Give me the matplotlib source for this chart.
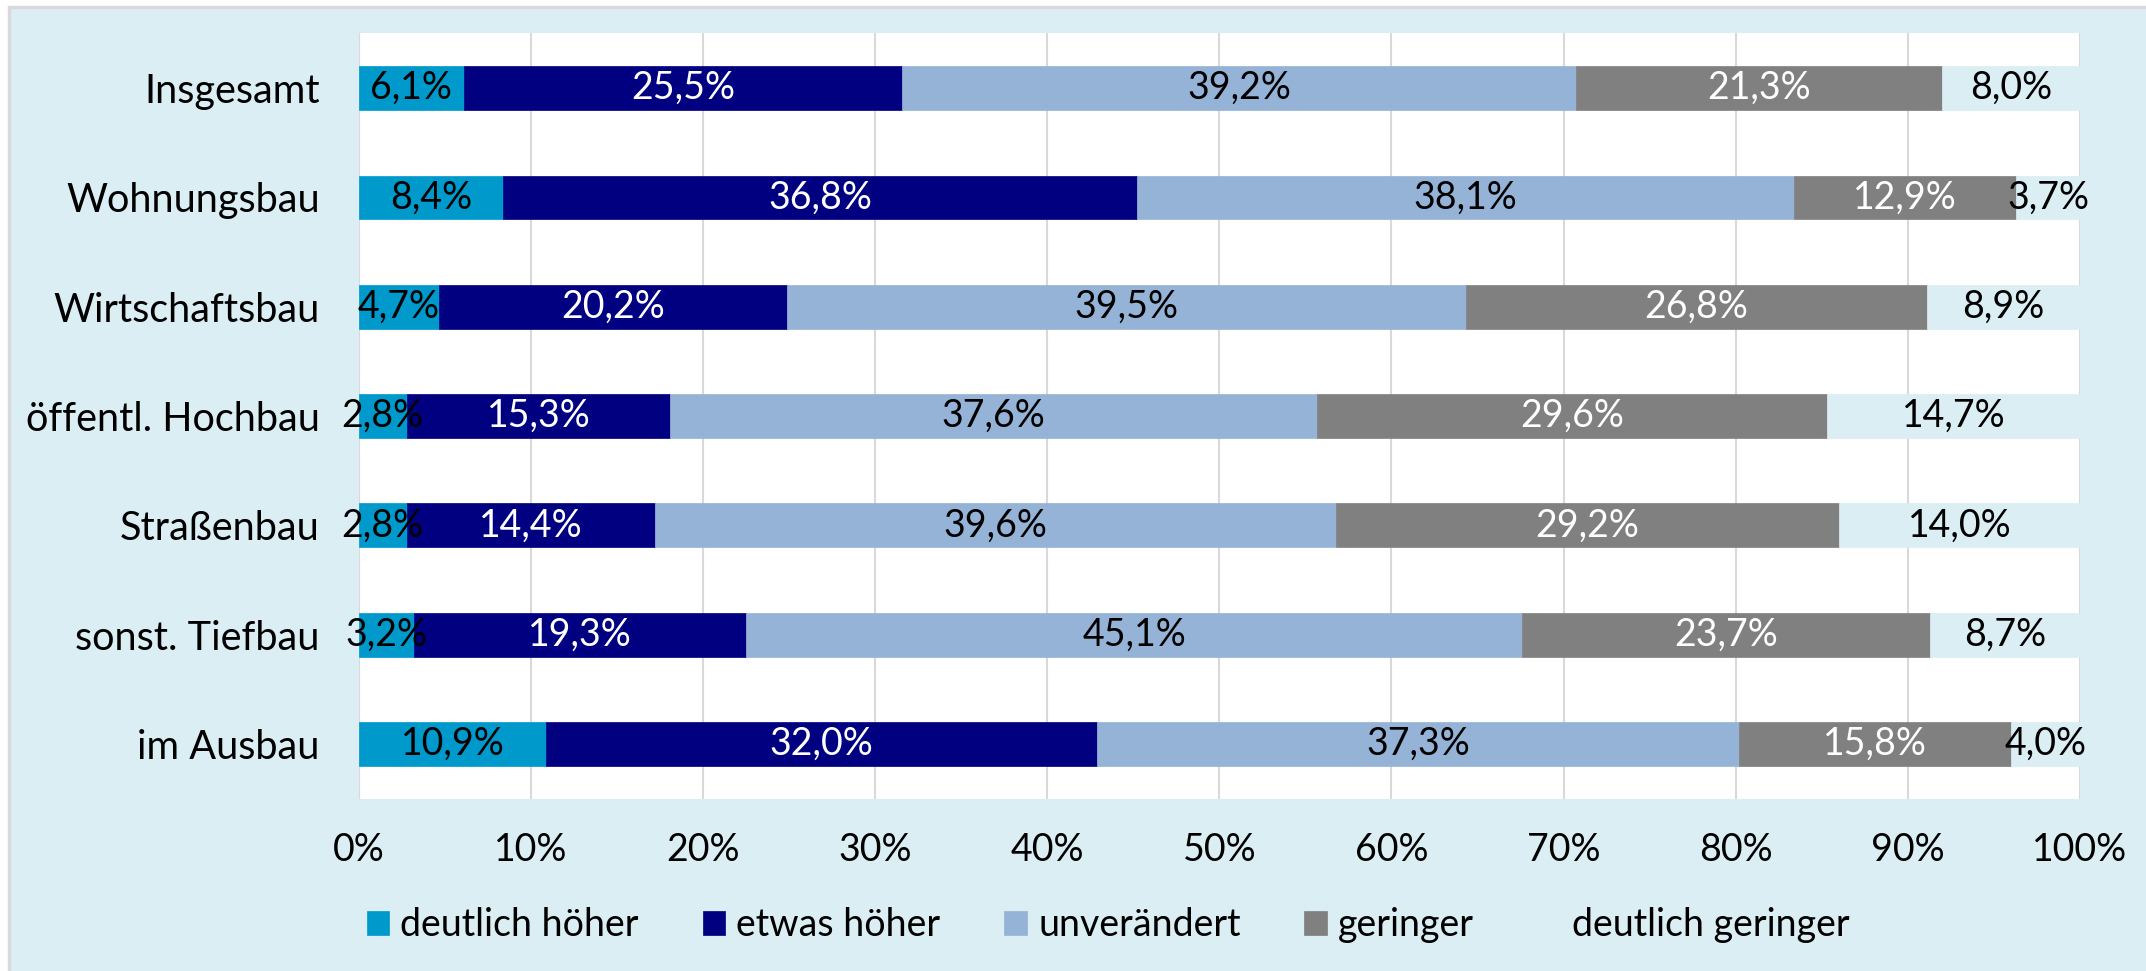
import numpy as np
import matplotlib.pyplot as plt
from matplotlib.patches import Rectangle

# data (percent of answers per building sector)
categories = ["Insgesamt", "Wohnungsbau", "Wirtschaftsbau", "öffentl. Hochbau",
              "Straßenbau", "sonst. Tiefbau", "im Ausbau"]
deutlich_hoeher = [6.1, 8.4, 4.7, 2.8, 2.8, 3.2, 10.9]
etwas_hoeher = [25.5, 36.8, 20.2, 15.3, 14.4, 19.3, 32.0]
unveraendert = [39.2, 38.1, 39.5, 37.6, 39.6, 45.1, 37.3]
geringer = [21.3, 12.9, 26.8, 29.6, 29.2, 23.7, 15.8]
deutlich_geringer = [8.0, 3.7, 8.9, 14.7, 14.0, 8.7, 4.0]
series_names = ["deutlich höher", "etwas höher", "unverändert", "geringer", "deutlich geringer"]
x_ticks = [0, 10, 20, 30, 40, 50, 60, 70, 80, 90, 100]

bg = "#DAEEF3"
colors = ["#0099CC", "#000080", "#95B3D7", "#808080", bg]
label_colors = ["black", "white", "black", "white", "black"]

plt.rcParams['font.family'] = ['Lato', 'DejaVu Sans']
fs = 27

W, H = 2146, 971
fig = plt.figure(figsize=(W / 100, H / 100), dpi=100)
fig.patch.set_facecolor("white")
# chart frame (light blue area with thin grey border at top/left)
frame = fig.add_axes([0, 0, 1, 1], zorder=-10)
frame.axis("off")
frame.set_xlim(0, W)
frame.set_ylim(H, 0)
frame.add_patch(Rectangle((9, 7), W, H, facecolor=bg, edgecolor="#D9D9D9", linewidth=2.5))

ax = fig.add_axes([358.6 / W, 1 - 798.6 / H, (2080 - 358.6) / W, (798.6 - 33.5) / H])
ax.set_facecolor("white")

data = np.array([deutlich_hoeher, etwas_hoeher, unveraendert, geringer, deutlich_geringer])
shares = data / data.sum(axis=0)  # 100% stacked
y = np.arange(len(categories))
left = np.zeros(len(categories))
for i, name in enumerate(series_names):
    bars = ax.barh(y, shares[i], left=left, height=0.4, color=colors[i], label=name,
                   edgecolor=colors[i], linewidth=0.5, zorder=2)
    for j, b in enumerate(bars):
        txt = f"{data[i][j]:.1f}%".replace(".", ",")
        ax.text(left[j] + shares[i][j] / 2, y[j], txt, ha="center", va="center",
                color=label_colors[i], fontsize=fs, zorder=3)
    left += shares[i]

ax.set_xlim(0, 1)
ax.set_ylim(len(categories) - 0.5, -0.5)
ax.set_xticks(np.array(x_ticks) / 100)
ax.set_xticklabels([f"{t}%" for t in x_ticks], fontsize=fs)
ax.set_yticks(y)
ax.set_yticklabels(categories, fontsize=28.5)
ax.tick_params(length=0)
ax.tick_params(axis="x", pad=24)
ax.tick_params(axis="y", pad=28)
ax.grid(axis="x", color="#D9D9D9", linewidth=1.5, zorder=0)
ax.set_axisbelow(True)
for s in ax.spines.values():
    s.set_visible(False)
ax.axvline(0, color="#D9D9D9", linewidth=1.5, zorder=1)

leg = fig.legend(loc="center", bbox_to_anchor=(1108 / W, 1 - 925 / H), ncol=5, frameon=False,
                 fontsize=fs, handlelength=0.6, handleheight=0.6, handletextpad=0.3,
                 columnspacing=1.7)

fig.savefig("out.png", dpi=100)
